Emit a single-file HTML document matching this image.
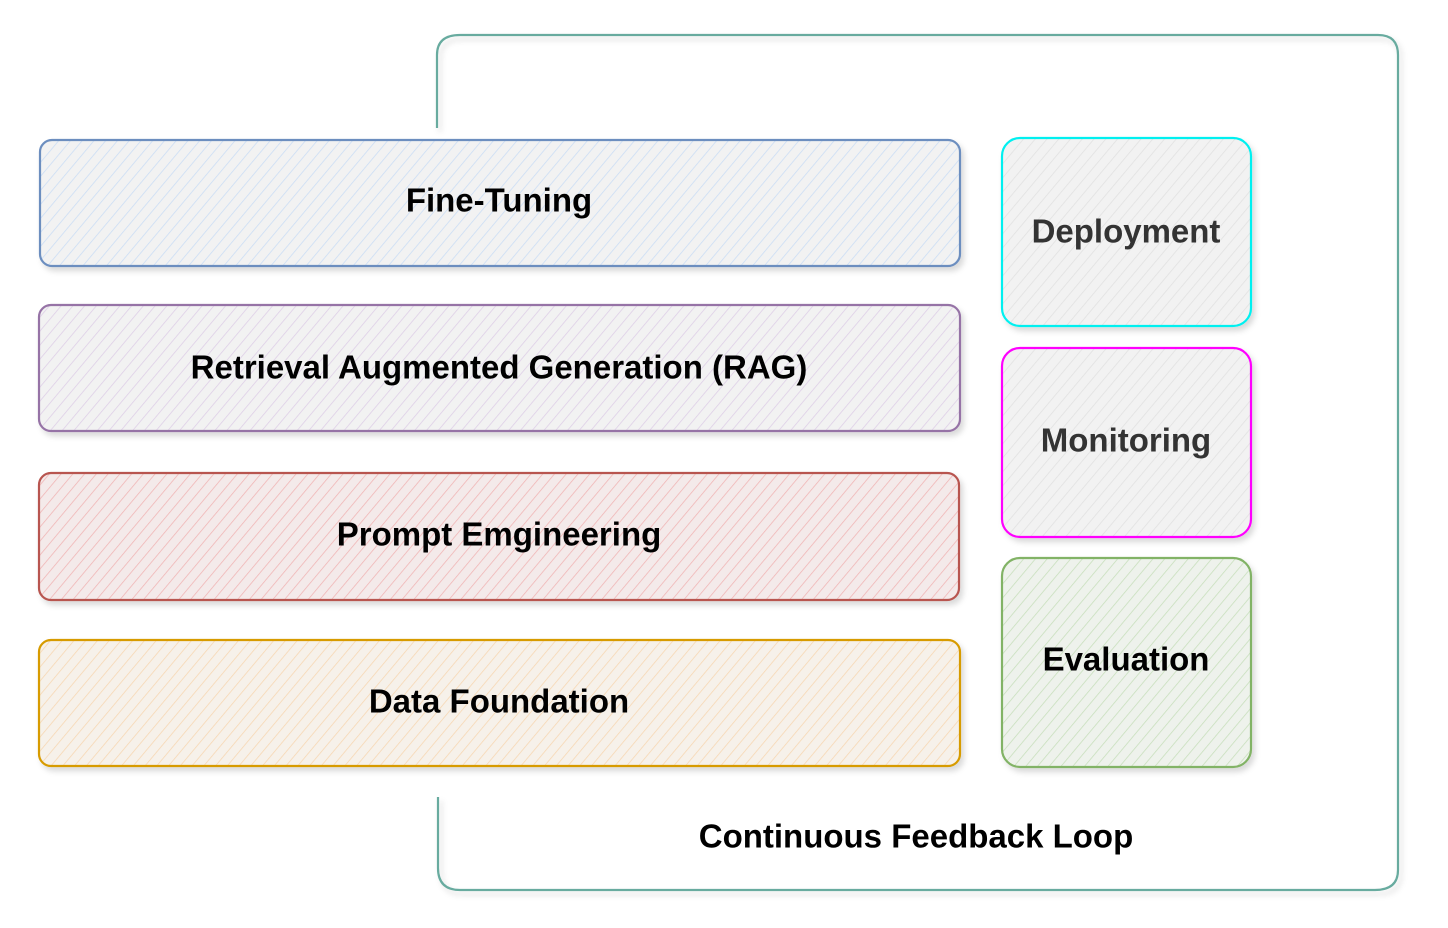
<!DOCTYPE html>
<html><head><meta charset="utf-8"><style>
html,body{margin:0;padding:0;background:#fff;}
svg{display:block}
text{font-family:"Liberation Sans",Arial,sans-serif;font-weight:bold;font-size:33px;text-anchor:middle;dominant-baseline:central}
</style></head><body>
<svg width="1448" height="928" viewBox="0 0 1448 928" xmlns="http://www.w3.org/2000/svg">
<defs>
<filter id="sh" x="-5%" y="-10%" width="110%" height="125%"><feDropShadow dx="3" dy="4" stdDeviation="3" flood-color="#000" flood-opacity="0.15"/></filter>
<pattern id="hb" width="9" height="9" patternUnits="userSpaceOnUse" patternTransform="rotate(40)"><rect width="9" height="9" fill="#f2f2f2"/><line x1="0" y1="0" x2="0" y2="9" stroke="#c9dcf5" stroke-width="1.5"/></pattern>
<pattern id="hp" width="9" height="9" patternUnits="userSpaceOnUse" patternTransform="rotate(40)"><rect width="9" height="9" fill="#f2f2f2"/><line x1="0" y1="0" x2="0" y2="9" stroke="#ddcde6" stroke-width="1.5"/></pattern>
<pattern id="hr" width="9" height="9" patternUnits="userSpaceOnUse" patternTransform="rotate(40)"><rect width="9" height="9" fill="#f4eaea"/><line x1="0" y1="0" x2="0" y2="9" stroke="#f0b3b3" stroke-width="1.5"/></pattern>
<pattern id="ho" width="9" height="9" patternUnits="userSpaceOnUse" patternTransform="rotate(40)"><rect width="9" height="9" fill="#f6f1ea"/><line x1="0" y1="0" x2="0" y2="9" stroke="#f7d6b0" stroke-width="1.5"/></pattern>
<pattern id="hg" width="9" height="9" patternUnits="userSpaceOnUse" patternTransform="rotate(40)"><rect width="9" height="9" fill="#f2f2f2"/><line x1="0" y1="0" x2="0" y2="9" stroke="#e0e0e0" stroke-width="1.5"/></pattern>
<pattern id="hgr" width="9" height="9" patternUnits="userSpaceOnUse" patternTransform="rotate(40)"><rect width="9" height="9" fill="#eef2ec"/><line x1="0" y1="0" x2="0" y2="9" stroke="#c6deba" stroke-width="1.5"/></pattern>
</defs>
<g fill="none" stroke="#67AB9F" stroke-width="2.2" filter="url(#sh)">
<path d="M437 128 V55 Q437 35 460 35 H1378 Q1398 35 1398 55 V870 Q1398 890 1375 890 H460 Q438 890 438 868 V797"/>
</g>
<text x="916" y="836" fill="#000">Continuous Feedback Loop</text>
<g stroke-width="2.2" filter="url(#sh)">
<rect x="40" y="140" width="920" height="126" rx="12" fill="url(#hb)" stroke="#6C8EBF"/>
<rect x="39" y="305" width="921" height="126" rx="12" fill="url(#hp)" stroke="#9673A6"/>
<rect x="39" y="473" width="920" height="127" rx="12" fill="url(#hr)" stroke="#B85450"/>
<rect x="39" y="640" width="921" height="126" rx="12" fill="url(#ho)" stroke="#D79B00"/>
<rect x="1002" y="138" width="249" height="188" rx="18" fill="url(#hg)" stroke="#00F0F0"/>
<rect x="1002" y="348" width="249" height="189" rx="18" fill="url(#hg)" stroke="#FF00FF"/>
<rect x="1002" y="558" width="249" height="209" rx="18" fill="url(#hgr)" stroke="#82B366"/>
</g>
<text x="499" y="200" fill="#000">Fine-Tuning</text>
<text x="499" y="367" fill="#000">Retrieval Augmented Generation (RAG)</text>
<text x="499" y="534" fill="#000">Prompt Emgineering</text>
<text x="499" y="701" fill="#000">Data Foundation</text>
<text x="1126" y="231" fill="#333">Deployment</text>
<text x="1126" y="440" fill="#333">Monitoring</text>
<text x="1126" y="659" fill="#000">Evaluation</text>
</svg>
</body></html>
